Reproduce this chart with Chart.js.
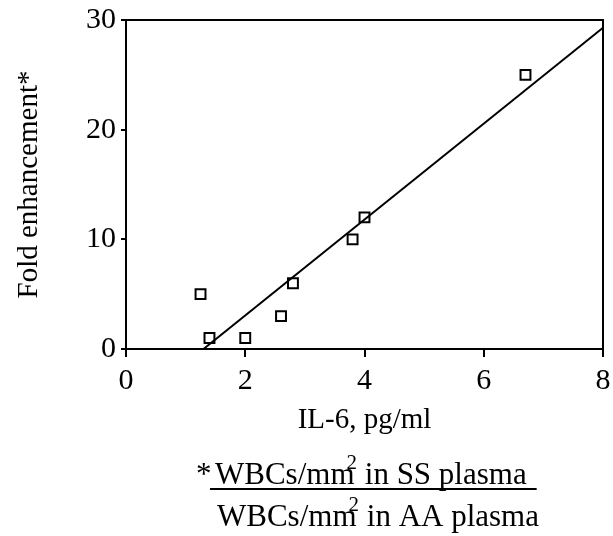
<!DOCTYPE html>
<html>
<head>
<meta charset="utf-8">
<script src="https://cdn.jsdelivr.net/npm/chart.js@4/dist/chart.umd.min.js"></script>
<style>
  html, body { margin: 0; padding: 0; background: #fff; }
  #wrap { width: 613px; height: 536px; position: relative; }
</style>
</head>
<body>
<div id="wrap"><canvas id="c"></canvas></div>
<script>
// IL-6 (pg/ml) vs fold enhancement
const il6 = [1.25, 1.4, 2.0, 2.6, 2.8, 3.8, 4.0, 6.7];
const fold = [5, 1, 1, 3, 6, 10, 12, 25];
// regression line end points
const fitX = [1.3, 8];
const fitY = [0, 29.3];

const xTicks = [0, 2, 4, 6, 8];
const yTicks = [0, 10, 20, 30];

const serif = "'Liberation Serif', 'DejaVu Serif', serif";

// full frame around plot + footnote fraction
const framePlugin = {
  id: "frame",
  afterDraw(chart) {
    const { ctx, chartArea: a } = chart;
    ctx.save();
    ctx.strokeStyle = "#000";
    ctx.lineWidth = 2;
    ctx.strokeRect(a.left, a.top, a.right - a.left, a.bottom - a.top);

    ctx.fillStyle = "#000";
    ctx.textBaseline = "alphabetic";
    const fs = 31;
    const drawLine = (x, y, pre, rest) => {
      ctx.font = fs + "px " + serif;
      ctx.fillText(pre, x, y);
      let w = ctx.measureText(pre).width;
      ctx.font = "21px " + serif;
      ctx.fillText("2", x + w - 8, y - 15);
      w += ctx.measureText("2").width - 8;
      ctx.font = fs + "px " + serif;
      ctx.fillText(rest, x + w, y);
      return w + ctx.measureText(rest).width;
    };
    ctx.font = fs + "px " + serif;
    ctx.fillText("*", 196, 484);
    const w1 = drawLine(215, 484, "WBCs/mm", " in SS plasma");
    ctx.lineWidth = 2;
    ctx.beginPath();
    ctx.moveTo(210, 489);
    ctx.lineTo(215 + w1 + 10, 489);
    ctx.stroke();
    drawLine(217, 526, "WBCs/mm", " in AA plasma");
    ctx.restore();
  }
};

new Chart(document.getElementById("c"), {
  type: "scatter",
  data: {
    datasets: [
      {
        type: "line",
        data: fitX.map((x, i) => ({ x: x, y: fitY[i] })),
        borderColor: "#000",
        borderWidth: 2,
        pointRadius: 0,
        fill: false
      },
      {
        data: il6.map((x, i) => ({ x: x, y: fold[i] })),
        pointStyle: "rect",
        pointRadius: 7,
        borderColor: "#000",
        borderWidth: 2,
        backgroundColor: "rgba(255,255,255,0)"
      }
    ]
  },
  options: {
    responsive: true,
    maintainAspectRatio: false,
    animation: false,
    layout: { padding: { left: 8, right: 10, top: 20, bottom: 94 } },
    plugins: { legend: { display: false }, tooltip: { enabled: false } },
    scales: {
      x: {
        type: "linear",
        min: 0, max: 8,
        afterBuildTicks: s => { s.ticks = xTicks.map(v => ({ value: v })); },
        afterFit: s => { s.height = 93; s.paddingLeft = 0; s.paddingRight = 0; },
        grid: { drawOnChartArea: false, drawTicks: true, tickLength: 8, color: "#000", lineWidth: 2 },
        border: { color: "#000", width: 2 },
        ticks: { color: "#000", font: { family: serif, size: 30 }, padding: 6 },
        title: { display: true, text: "IL-6, pg/ml", color: "#000", font: { family: serif, size: 29 }, padding: 4 }
      },
      y: {
        type: "linear",
        min: 0, max: 30,
        afterBuildTicks: s => { s.ticks = yTicks.map(v => ({ value: v })); },
        afterFit: s => { s.width = 118; s.paddingTop = 0; s.paddingBottom = 0; },
        grid: { drawOnChartArea: false, drawTicks: true, tickLength: 5, color: "#000", lineWidth: 2 },
        border: { color: "#000", width: 2 },
        ticks: { color: "#000", font: { family: serif, size: 30 }, padding: 5 },
        title: { display: true, text: "Fold enhancement*", color: "#000", font: { family: serif, size: 29 }, padding: 4 }
      }
    }
  },
  plugins: [framePlugin]
});
</script>
</body>
</html>
